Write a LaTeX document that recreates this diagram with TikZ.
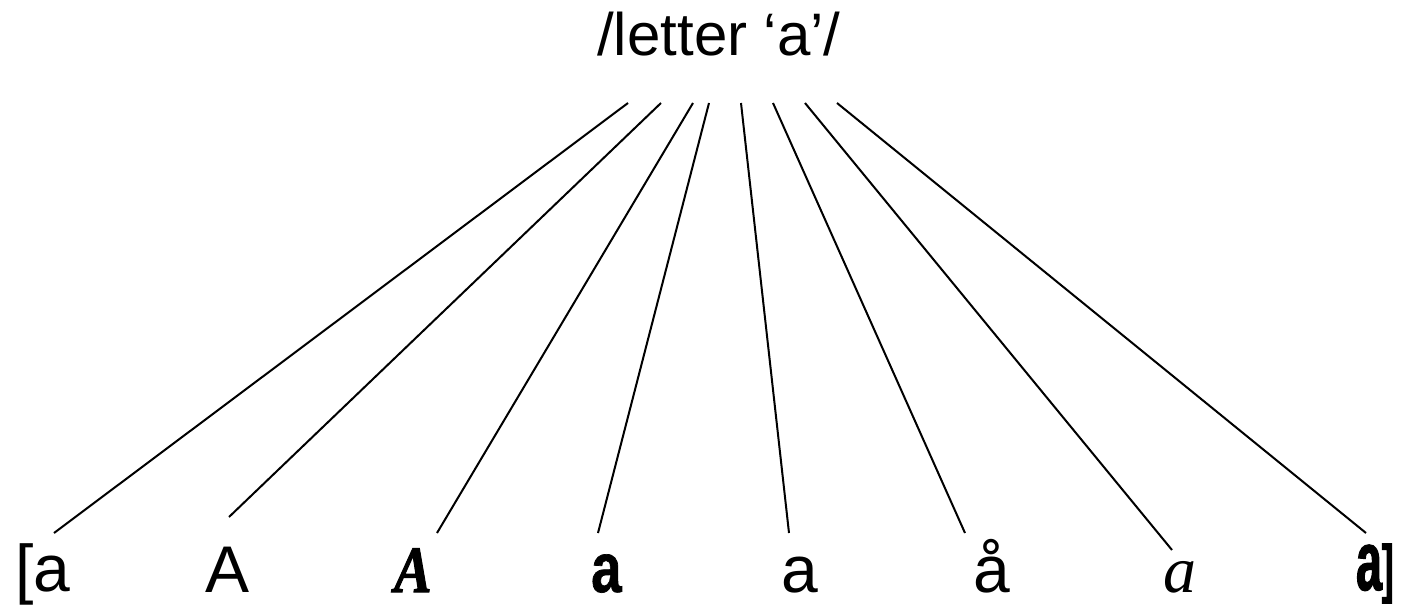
\documentclass[tikz,border=0pt]{standalone}
\usepackage{fontspec}
\setmainfont{Liberation Sans}
\newfontfamily\serifbi{Liberation Serif}[UprightFont=* Bold Italic, FakeBold=1.5, FakeStretch=0.85]
\newfontfamily\serifit{Liberation Serif}[UprightFont=* Italic]
\newfontfamily\sansbold{Liberation Sans}[UprightFont=* Bold, FakeBold=1, FakeStretch=0.78]
\newfontfamily\sanscond{Liberation Sans}[UprightFont=* Bold, FakeBold=1.5, FakeStretch=0.55]
\begin{document}
\begin{tikzpicture}[x=1pt,y=-1pt,
  lbl/.style={inner sep=0pt, anchor=base west, font=\fontsize{66}{70}\selectfont},
  ttl/.style={inner sep=0pt, anchor=base, font=\fontsize{60}{64}\selectfont},
  link/.style={line width=2pt, line cap=butt}]
\useasboundingbox (0,0) rectangle (1406,605);
\node[ttl] (title) at (719,55) {/letter ‘a’/};
\node[lbl] (l1) at (15,591) {[a};
\node[lbl] (l2) at (205,592) {A};
\node[lbl, font=\fontsize{66}{70}\serifbi] (l3) at (394,592) {A};
\node[lbl, font=\fontsize{70}{74}\sansbold] (l4) at (591,592) {a};
\node[lbl] (l5) at (781,592) {a};
\node[lbl] (l6) at (973,592) {å};
\node[lbl, font=\fontsize{66}{70}\serifit] (l7) at (1163,592) {a};
\node[lbl, font=\fontsize{84}{88}\sanscond] (l8) at (1356,590) {a{\fontsize{64}{68}\selectfont]}};
\foreach \i/\tx/\bx/\by in {1/628/54/533, 2/661/229/517, 3/693/437/533, 4/709/598/533,
  5/741/789/533, 6/773/965/533, 7/805/1172/550, 8/837/1366/533} {
  \coordinate (t\i) at (\tx,103);
  \coordinate (b\i) at (\bx,\by);
  \draw[link] (t\i) -- (b\i);
}
\end{tikzpicture}
\end{document}
